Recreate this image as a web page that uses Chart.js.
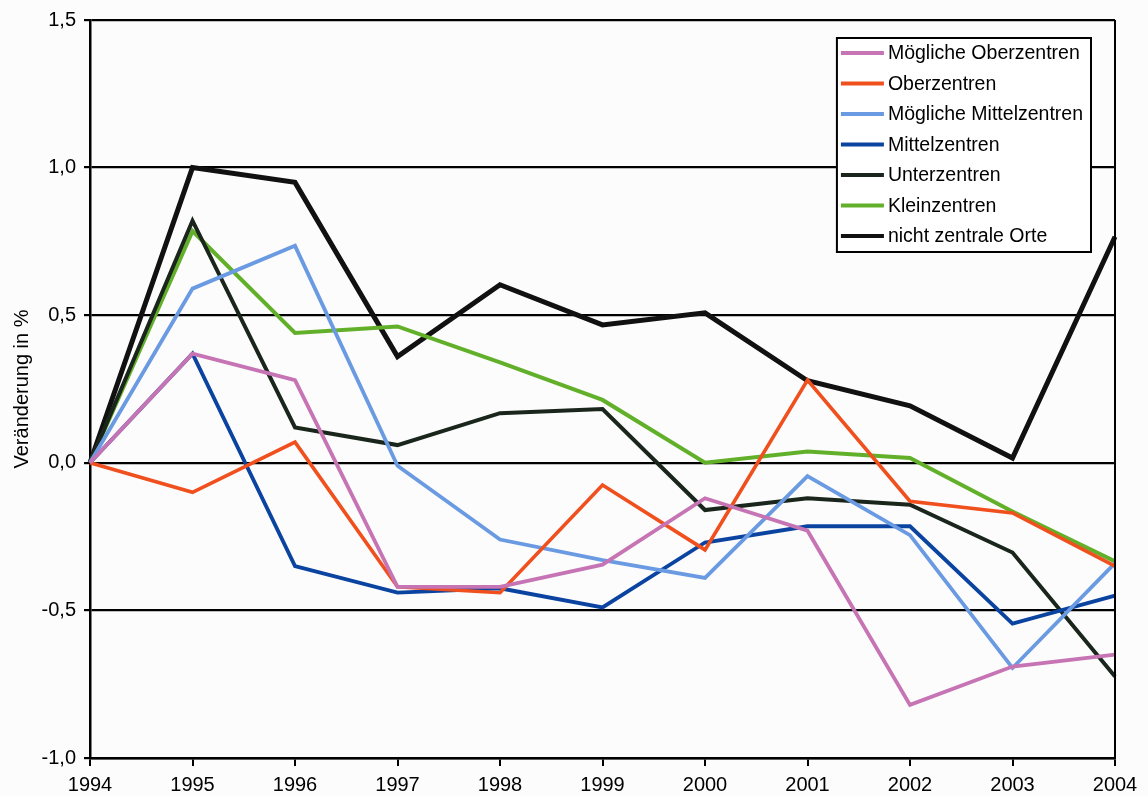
<!DOCTYPE html>
<html lang="de">
<head>
<meta charset="utf-8">
<title>Veränderung in %</title>
<script src="https://cdn.jsdelivr.net/npm/chart.js@4"></script>
<style>
    html, body { margin: 0; padding: 0; background: #fcfcfc; }
    #wrap { width: 1148px; height: 796px; }
</style>
</head>
<body>
<div id="wrap"><canvas id="chart" width="1148" height="796"></canvas></div>
<script>
// Jahre (x-Achse)
const jahre = ['1994', '1995', '1996', '1997', '1998', '1999', '2000', '2001', '2002', '2003', '2004'];

// Werte der Reihen (Veränderung in %)
const moeglicheOberzentren  = [0, 0.37, 0.28, -0.42, -0.42, -0.345, -0.12, -0.23, -0.82, -0.69, -0.65];
const oberzentren           = [0, -0.10, 0.07, -0.42, -0.44, -0.075, -0.295, 0.28, -0.13, -0.17, -0.35];
const moeglicheMittelzentren = [0, 0.59, 0.735, -0.01, -0.26, -0.33, -0.39, -0.045, -0.245, -0.695, -0.34];
const mittelzentren         = [0, 0.37, -0.35, -0.44, -0.425, -0.49, -0.27, -0.215, -0.215, -0.545, -0.45];
const unterzentren          = [0, 0.82, 0.12, 0.06, 0.168, 0.182, -0.16, -0.12, -0.142, -0.304, -0.724];
const kleinzentren          = [0, 0.785, 0.44, 0.462, 0.34, 0.213, 0.0, 0.038, 0.016, -0.165, -0.334];
const nichtZentraleOrte     = [0, 1.0, 0.95, 0.36, 0.603, 0.467, 0.508, 0.278, 0.193, 0.016, 0.766];

// Achsenbereich
const yMin = -1.0, yMax = 1.5, yStep = 0.5;

const schrift = '"Liberation Sans", Arial, sans-serif';

function reihe(label, data, color, width) {
    return {
        label: label,
        data: data,
        borderColor: color,
        backgroundColor: color,
        borderWidth: width,
        pointRadius: 0,
        tension: 0,
        fill: false
    };
}

// Legende als Kasten oben rechts im Diagramm
const legendeImKasten = {
    id: 'legendeImKasten',
    afterDatasetsDraw(chart) {
        const ctx = chart.ctx;
        const area = chart.chartArea;
        ctx.save();
        ctx.font = '19.5px ' + schrift;
        const items = chart.data.datasets;
        let maxText = 0;
        items.forEach(d => { maxText = Math.max(maxText, ctx.measureText(d.label).width); });
        const lineLen = 43, gap = 4, padL = 4, padR = 8, rowH = 30.5;
        const w = padL + lineLen + gap + maxText + padR;
        const h = 30 + rowH * (items.length - 1) + 1;
        const x = area.right - 24 - w;
        const y = area.top + 18;
        ctx.fillStyle = '#fff';
        ctx.fillRect(x, y, w, h);
        ctx.strokeStyle = '#000';
        ctx.lineWidth = 2;
        ctx.strokeRect(x, y, w, h);
        ctx.textBaseline = 'middle';
        ctx.textAlign = 'left';
        items.forEach((d, i) => {
            const cy = y + 15 + i * rowH;
            ctx.strokeStyle = d.borderColor;
            ctx.lineWidth = 4;
            ctx.beginPath();
            ctx.moveTo(x + padL, cy);
            ctx.lineTo(x + padL + lineLen, cy);
            ctx.stroke();
            ctx.fillStyle = '#000';
            ctx.fillText(d.label, x + padL + lineLen + gap, cy + 1);
        });
        ctx.restore();
    },
    // rechter Rahmen der Zeichenfläche
    afterDraw(chart) {
        const ctx = chart.ctx;
        const a = chart.chartArea;
        ctx.save();
        ctx.strokeStyle = '#000';
        ctx.lineWidth = 2;
        ctx.beginPath();
        ctx.moveTo(a.right, a.top);
        ctx.lineTo(a.right, a.bottom);
        ctx.stroke();
        ctx.restore();
    }
};

const ctx = document.getElementById('chart').getContext('2d');

new Chart(ctx, {
    type: 'line',
    data: {
        labels: jahre,
        datasets: [
            reihe('Mögliche Oberzentren', moeglicheOberzentren, '#c674b4', 3.8),
            reihe('Oberzentren', oberzentren, '#f0501e', 3.6),
            reihe('Mögliche Mittelzentren', moeglicheMittelzentren, '#6a9ae2', 3.8),
            reihe('Mittelzentren', mittelzentren, '#0a44a0', 3.8),
            reihe('Unterzentren', unterzentren, '#1a261c', 4),
            reihe('Kleinzentren', kleinzentren, '#62b02a', 4),
            reihe('nicht zentrale Orte', nichtZentraleOrte, '#111111', 5)
        ]
    },
    options: {
        responsive: false,
        animation: false,
        layout: { padding: { left: 8, right: 33, top: 20, bottom: 4 } },
        plugins: {
            legend: { display: false },
            tooltip: { enabled: false }
        },
        scales: {
            x: {
                offset: false,
                grid: {
                    drawOnChartArea: false,
                    drawTicks: true,
                    tickLength: 8,
                    color: '#000',
                    lineWidth: 2
                },
                border: { color: '#000', width: 2.5 },
                ticks: {
                    color: '#000',
                    font: { family: schrift, size: 20 },
                    padding: 7,
                    maxRotation: 0,
                    autoSkip: false
                },
                afterFit(scale) { scale.height = 34; }
            },
            y: {
                min: yMin,
                max: yMax,
                grid: {
                    color: '#000',
                    lineWidth: 2.2,
                    tickLength: 6
                },
                border: { color: '#000', width: 2.5 },
                ticks: {
                    stepSize: yStep,
                    color: '#000',
                    padding: 8,
                    font: { family: schrift, size: 20 },
                    callback: v => v.toFixed(1).replace('.', ',')
                },
                title: {
                    display: true,
                    text: 'Veränderung in %',
                    color: '#000',
                    padding: { top: 2, bottom: 0 },
                    font: { family: schrift, size: 20 }
                },
                afterFit(scale) { scale.width = 82; }
            }
        }
    },
    plugins: [legendeImKasten]
});
</script>
</body>
</html>
